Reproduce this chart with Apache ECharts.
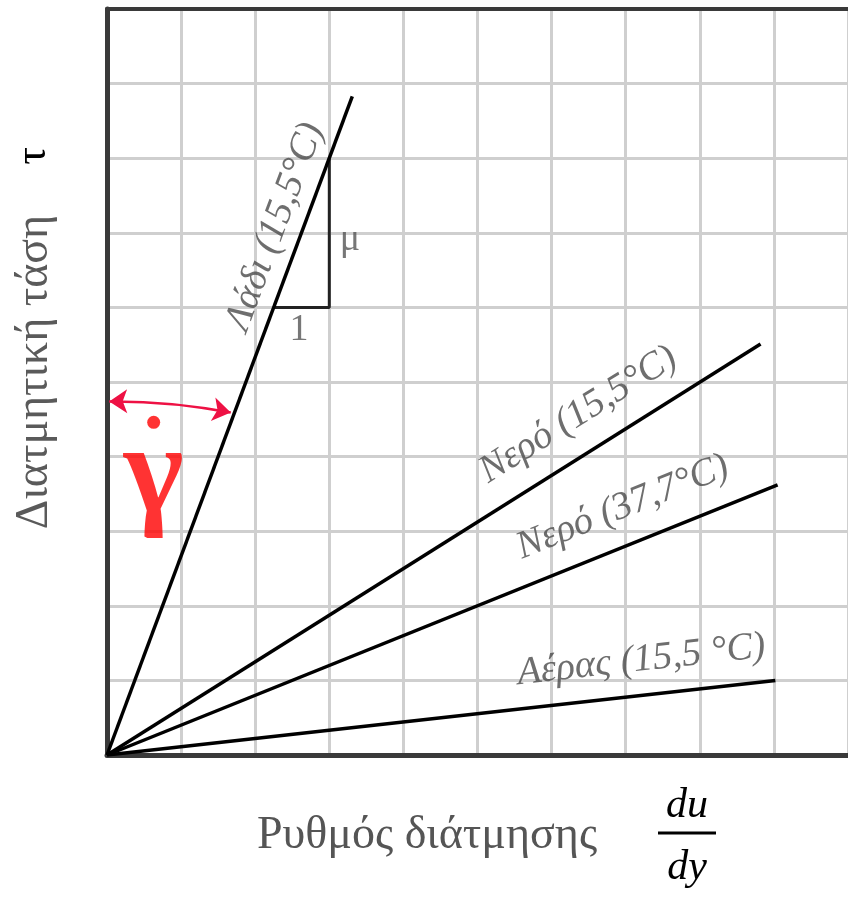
<!DOCTYPE html>
<html>
<head>
<meta charset="utf-8">
<script src="https://cdn.jsdelivr.net/npm/echarts@6/dist/echarts.min.js"></script>
<style>
html, body { margin: 0; padding: 0; background: #fff; }
#chart { width: 848px; height: 898px; }
</style>
</head>
<body>
<div id="chart"></div>
<script>
// fluids (lines from origin), in grid units
const fluids = ['Λάδι (15,5°C)', 'Νερό (15,5°C)', 'Νερό (37,7°C)', 'Αέρας (15,5 °C)']
const lineEndX = [3.31, 8.82, 9.05, 9.02]
const lineEndY = [8.83, 5.51, 3.62, 1.0]
const labelX = [2.27, 6.36, 6.96, 7.21]
const labelY = [7.08, 4.56, 3.32, 1.27]

// slope triangle on the oil line
const triX = [2.25, 3, 3]
const triY = [6, 6, 8]
const triText = ['1', 'μ']
const triTextX = [2.59, 3.28]
const triTextY = [5.70, 6.90]

// shear-rate marker (arrow + gamma dot)
const arrowX = [0.03, 1.67]
const arrowY = [4.74, 4.59]
const gammaX = 0.63
const gammaY = 3.72
const dotY = 4.46

const chart = echarts.init(document.getElementById('chart'))

const gridColor = '#cfcfcf'
const axisColor = '#3a3a3a'
const labelFont = 'Liberation Serif'

const fluidSeries = fluids.map((name, i) => ({
    name: name,
    type: 'line',
    data: [[0, 0], [lineEndX[i], lineEndY[i]]],
    symbol: 'none',
    lineStyle: { color: '#000', width: 3.5 },
    z: 5
}))

const labelSeries = {
    type: 'scatter',
    symbolSize: 0,
    silent: true,
    data: fluids.map((name, i) => ({
        value: [labelX[i], labelY[i]],
        name: name,
        label: { rotate: Math.atan2(lineEndY[i], lineEndX[i]) * 180 / Math.PI }
    })),
    label: {
        show: true,
        position: 'inside',
        formatter: p => p.name,
        fontFamily: labelFont,
        fontStyle: 'italic',
        fontSize: 39,
        color: '#4a4a4a'
    },
    z: 6
}

const triSeries = {
    type: 'line',
    data: triX.map((x, i) => [x, triY[i]]),
    symbol: 'none',
    lineStyle: { color: '#222', width: 3 },
    z: 4
}

const triLabels = {
    type: 'scatter',
    symbolSize: 0,
    silent: true,
    data: triText.map((t, i) => ({ value: [triTextX[i], triTextY[i]], name: t })),
    label: {
        show: true,
        position: 'inside',
        formatter: p => p.name,
        fontFamily: labelFont,
        fontSize: 38,
        color: '#555'
    },
    z: 6
}

const arrowSeries = {
    type: 'lines',
    coordinateSystem: 'cartesian2d',
    data: [{ coords: [[arrowX[0], arrowY[0]], [arrowX[1], arrowY[1]]] }],
    symbol: ['arrow', 'arrow'],
    symbolSize: 18,
    lineStyle: { color: '#ee1144', width: 2.5, curveness: 0.05, opacity: 1 },
    z: 7
}

const gammaSeries = {
    type: 'scatter',
    silent: true,
    data: [
        { value: [gammaX, dotY], symbol: 'circle', symbolSize: 13, itemStyle: { color: '#ff0000' } },
        {
            value: [gammaX, gammaY], symbolSize: 0, name: 'γ',
            label: {
                show: true, position: 'inside', formatter: 'γ',
                fontFamily: labelFont, fontSize: 128, fontWeight: 'bold', color: '#ff0000'
            }
        }
    ],
    z: 7
}

chart.setOption({
    animation: false,
    backgroundColor: '#fff',
    grid: { left: 107, top: 9, right: -5, bottom: 143, containLabel: false },
    xAxis: [{
        type: 'value', min: 0, max: 10, interval: 1,
        axisLine: { show: true, lineStyle: { color: axisColor, width: 5 } },
        axisTick: { show: false },
        axisLabel: { show: false },
        splitLine: { show: true, lineStyle: { color: gridColor, width: 3 } }
    }, {
        type: 'value', position: 'top', min: 0, max: 10,
        axisLine: { show: true, onZero: false, lineStyle: { color: axisColor, width: 4 } },
        axisTick: { show: false },
        axisLabel: { show: false },
        splitLine: { show: false }
    }],
    yAxis: {
        type: 'value', min: 0, max: 10, interval: 1,
        axisLine: { show: true, lineStyle: { color: axisColor, width: 5 } },
        axisTick: { show: false },
        axisLabel: { show: false },
        splitLine: { show: true, lineStyle: { color: gridColor, width: 3 } }
    },
    series: [...fluidSeries, triSeries, labelSeries, triLabels, arrowSeries, gammaSeries],
    graphic: [
        {
            type: 'text', x: 35, y: 372, rotation: Math.PI / 2,
            style: {
                text: 'Διατμητική τάση', font: '46px "Liberation Serif"',
                fill: '#5a5a5a', align: 'center', verticalAlign: 'middle'
            }
        },
        {
            type: 'text', x: 33, y: 156, rotation: Math.PI / 2,
            style: {
                text: 'τ', font: '44px "Liberation Serif"',
                fill: '#000', align: 'center', verticalAlign: 'middle'
            }
        },
        {
            type: 'text', x: 427, y: 836,
            style: {
                text: 'Ρυθμός διάτμησης', font: '46px "Liberation Serif"',
                fill: '#555', align: 'center', verticalAlign: 'middle'
            }
        },
        {
            type: 'text', x: 687, y: 806,
            style: {
                text: 'du', font: 'italic 42px "Liberation Serif"',
                fill: '#000', align: 'center', verticalAlign: 'middle'
            }
        },
        {
            type: 'line', shape: { x1: 658, y1: 833, x2: 716, y2: 833 },
            style: { stroke: '#000', lineWidth: 3 }
        },
        {
            type: 'text', x: 687, y: 868,
            style: {
                text: 'dy', font: 'italic 42px "Liberation Serif"',
                fill: '#000', align: 'center', verticalAlign: 'middle'
            }
        }
    ]
})
</script>
</body>
</html>
